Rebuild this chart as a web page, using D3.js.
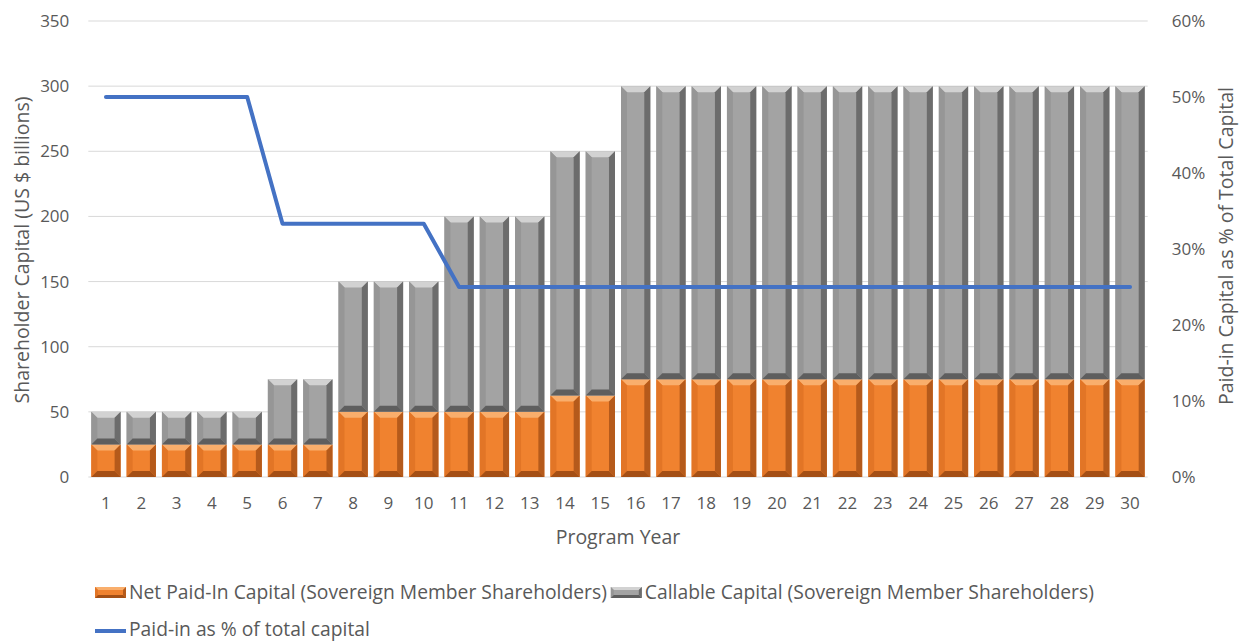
<!DOCTYPE html>
<html><head><meta charset="utf-8">
<script src="https://cdn.jsdelivr.net/npm/d3@7"></script>
<style>body{margin:0;background:#fff;}svg{display:block;font-family:"Open Sans",sans-serif;}</style>
</head><body>
<svg id="c" width="1244" height="642"></svg>
<script>
const years = ["1","2","3","4","5","6","7","8","9","10","11","12","13","14","15","16","17","18","19","20","21","22","23","24","25","26","27","28","29","30"];
const paidIn = [25,25,25,25,25,25,25,50,50,50,50,50,50,62.5,62.5,75,75,75,75,75,75,75,75,75,75,75,75,75,75,75];
const callable = [25,25,25,25,25,50,50,100,100,100,150,150,150,187.5,187.5,225,225,225,225,225,225,225,225,225,225,225,225,225,225,225];
const paidPct = [50,50,50,50,50,33.33,33.33,33.33,33.33,33.33,25,25,25,25,25,25,25,25,25,25,25,25,25,25,25,25,25,25,25,25];
const leftTicks = [0,50,100,150,200,250,300,350];
const rightTicks = [0,10,20,30,40,50,60];
const seriesNames = ["Net Paid-In Capital (Sovereign Member Shareholders)","Callable Capital (Sovereign Member Shareholders)","Paid-in as % of total capital"];

const svg = d3.select("#c");
const L = 88.3, R = 1147.7, T = 21, B = 477;
const x = d3.scaleBand().domain(years).range([L, R]).paddingInner(0.17).paddingOuter(0.085);
const y = d3.scaleLinear().domain([0, 350]).range([B, T]);
const y2 = d3.scaleLinear().domain([0, 60]).range([B, T]);
const txt = "#595959";
const tickFs = "17px", titleFs = "19.5px", legFs = "19.3px";

// gridlines
svg.append("g").selectAll("line").data(leftTicks).join("line")
  .attr("x1", L).attr("x2", R).attr("y1", d => y(d)).attr("y2", d => y(d))
  .attr("stroke", "#d9d9d9").attr("stroke-width", 1);

// axes
const gl = svg.append("g").attr("transform", `translate(${L},0)`)
  .call(d3.axisLeft(y).tickValues(leftTicks).tickSize(0).tickPadding(19));
gl.select(".domain").remove();
gl.selectAll("text").attr("fill", txt).style("font-size", tickFs).style("font-family", "Open Sans");

const gr = svg.append("g").attr("transform", `translate(${R},0)`)
  .call(d3.axisRight(y2).tickValues(rightTicks).tickSize(0).tickPadding(24).tickFormat(d => d + "%"));
gr.select(".domain").remove();
gr.selectAll("text").attr("fill", txt).style("font-size", tickFs).style("font-family", "Open Sans");

const gb = svg.append("g").attr("transform", `translate(0,${B})`)
  .call(d3.axisBottom(x).tickSize(0).tickPadding(20));
gb.select(".domain").remove();
gb.selectAll("text").attr("fill", txt).style("font-size", tickFs).style("font-family", "Open Sans");

// bevel drawing
const pal = {
  orange: {c: "#F0822F", top: "#F9AE6C", left: "#E27526", right: "#B55A1B", bot: "#A44F15"},
  gray: {c: "#A3A3A3", top: "#D2D2D2", left: "#969696", right: "#6C6C6C", bot: "#5E5E5E"}
};
function bevel(g, x0, y0, w, h, p, bv) {
  const b = Math.min(bv, w / 2, h / 2);
  const x1 = x0 + w, y1 = y0 + h;
  g.append("rect").attr("x", x0).attr("y", y0).attr("width", w).attr("height", h).attr("fill", p.c);
  const poly = (pts, f) => g.append("polygon").attr("points", pts.map(q => q.join(",")).join(" ")).attr("fill", f);
  poly([[x0, y0], [x1, y0], [x1 - b, y0 + b], [x0 + b, y0 + b]], p.top);
  poly([[x0, y0], [x0 + b, y0 + b], [x0 + b, y1 - b], [x0, y1]], p.left);
  poly([[x1, y0], [x1, y1], [x1 - b, y1 - b], [x1 - b, y0 + b]], p.right);
  poly([[x0, y1], [x0 + b, y1 - b], [x1 - b, y1 - b], [x1, y1]], p.bot);
}

const bars = svg.append("g");
years.forEach((yr, i) => {
  const g = bars.append("g");
  const bx = x(yr), bw = x.bandwidth();
  const yPaid = y(paidIn[i]);
  bevel(g, bx, yPaid, bw, y(0) - yPaid, pal.orange, 6);
  const yTop = y(paidIn[i] + callable[i]);
  bevel(g, bx, yTop, bw, yPaid - yTop, pal.gray, 6);
});

// line
const line = d3.line().x((d, i) => x(years[i]) + x.bandwidth() / 2).y(d => y2(d));
svg.append("path").datum(paidPct).attr("d", line).attr("fill", "none")
  .attr("stroke", "#4472C4").attr("stroke-width", 4).attr("stroke-linecap", "round").attr("stroke-linejoin", "round");

// axis titles
svg.append("text").attr("transform", `translate(29,${(T + B) / 2 + 1}) rotate(-90)`).attr("text-anchor", "middle")
  .attr("fill", txt).style("font-size", titleFs).text("Shareholder Capital (US $ billions)");
svg.append("text").attr("transform", `translate(1233,${(T + B) / 2 - 3}) rotate(-90)`).attr("text-anchor", "middle")
  .attr("fill", txt).style("font-size", titleFs).text("Paid-in Capital as % of Total Capital");
svg.append("text").attr("x", (L + R) / 2).attr("y", 544).attr("text-anchor", "middle")
  .attr("fill", txt).style("font-size", titleFs).text("Program Year");

// legend
const lg = svg.append("g");
bevel(lg, 95, 587, 31, 11, pal.orange, 3);
const t1 = lg.append("text").attr("x", 129).attr("y", 599).attr("fill", txt).style("font-size", legFs).text(seriesNames[0]);
const sx = 129 + t1.node().getComputedTextLength() + 4;
bevel(lg, sx, 587, 31, 11, pal.gray, 3);
lg.append("text").attr("x", sx + 34).attr("y", 599).attr("fill", txt).style("font-size", legFs).text(seriesNames[1]);
lg.append("line").attr("x1", 95).attr("x2", 126).attr("y1", 631).attr("y2", 631).attr("stroke", "#4472C4").attr("stroke-width", 4);
lg.append("text").attr("x", 129).attr("y", 636).attr("fill", txt).style("font-size", legFs).text(seriesNames[2]);
</script>
</body></html>
